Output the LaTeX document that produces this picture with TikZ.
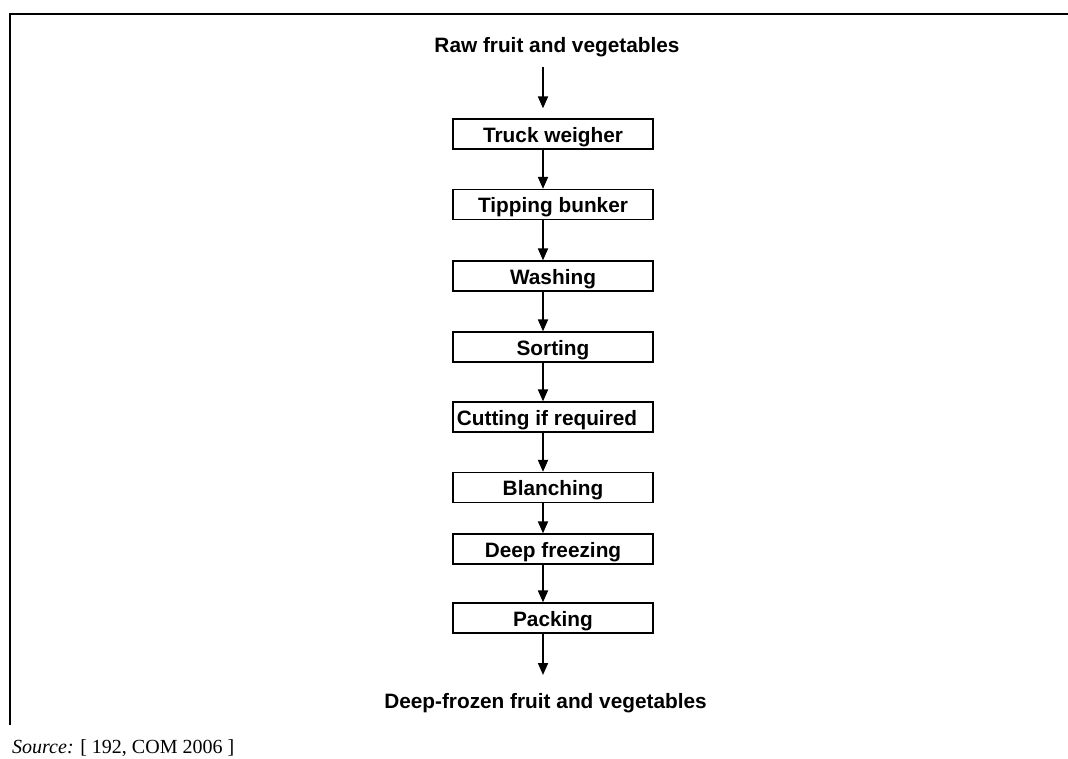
\documentclass[tikz,border=0pt]{standalone}
\usepackage{fontspec}
\setmainfont{Liberation Sans}
\newfontfamily\srcfont{Liberation Serif}
\usetikzlibrary{arrows.meta}
\begin{document}
\begin{tikzpicture}[x=1pt,y=-1pt,
  stage/.style={draw=black, line width=1.3pt, rectangle,
    minimum width=200pt, minimum height=30pt, inner sep=0pt,
    text height=18pt, text depth=2pt,
    font=\fontsize{20.8}{24}\selectfont\bfseries},
  endlabel/.style={anchor=base, inner sep=0pt,
    font=\fontsize{20.8}{24}\selectfont\bfseries},
  flow/.style={line width=1.9pt, -{Triangle[length=12pt,width=10pt]}},
  frame/.style={line width=2.2pt, line join=miter}]
\useasboundingbox (0,0) rectangle (1068,758);

% page frame (top and left rules)
\draw[frame] (10,725) -- (10,14) -- (1068,14);

% column of the connectors
\coordinate (ax) at (543,0);

% input and output labels
\node[endlabel] (raw) at (557,52) {Raw fruit and vegetables};
\node[endlabel] (out) at (545.5,708) {Deep-frozen fruit and vegetables};

% process steps
\node[stage] (tw) at (553,134)   {Truck weigher};
\node[stage] (tb) at (553,204.5) {Tipping bunker};
\node[stage] (wa) at (553,276)   {Washing};
\node[stage] (so) at (553,347)   {Sorting};
\node[stage] (cu) at (553,417)   {\kern-12pt Cutting if required};
\node[stage] (bl) at (553,487.5) {Blanching};
\node[stage] (df) at (553,549)   {Deep freezing};
\node[stage] (pa) at (553,618)   {Packing};

% connectors
\draw[flow, shorten >=10pt] ([yshift=-15pt]raw.base -| ax) -- (tw.north -| ax);
\draw[flow] (tw.south -| ax) -- (tb.north -| ax);
\draw[flow] (tb.south -| ax) -- (wa.north -| ax);
\draw[flow] (wa.south -| ax) -- (so.north -| ax);
\draw[flow] (so.south -| ax) -- (cu.north -| ax);
\draw[flow] (cu.south -| ax) -- (bl.north -| ax);
\draw[flow] (bl.south -| ax) -- (df.north -| ax);
\draw[flow] (df.south -| ax) -- (pa.north -| ax);
\draw[flow] (pa.south -| ax) -- ([yshift=33pt]out.base -| ax);

% source line
\node[anchor=base west, inner sep=0pt, font=\srcfont\fontsize{20}{24}\selectfont]
  (src) at (12,753) {\textit{Source:} [ 192, COM 2006 ]};
\end{tikzpicture}
\end{document}
